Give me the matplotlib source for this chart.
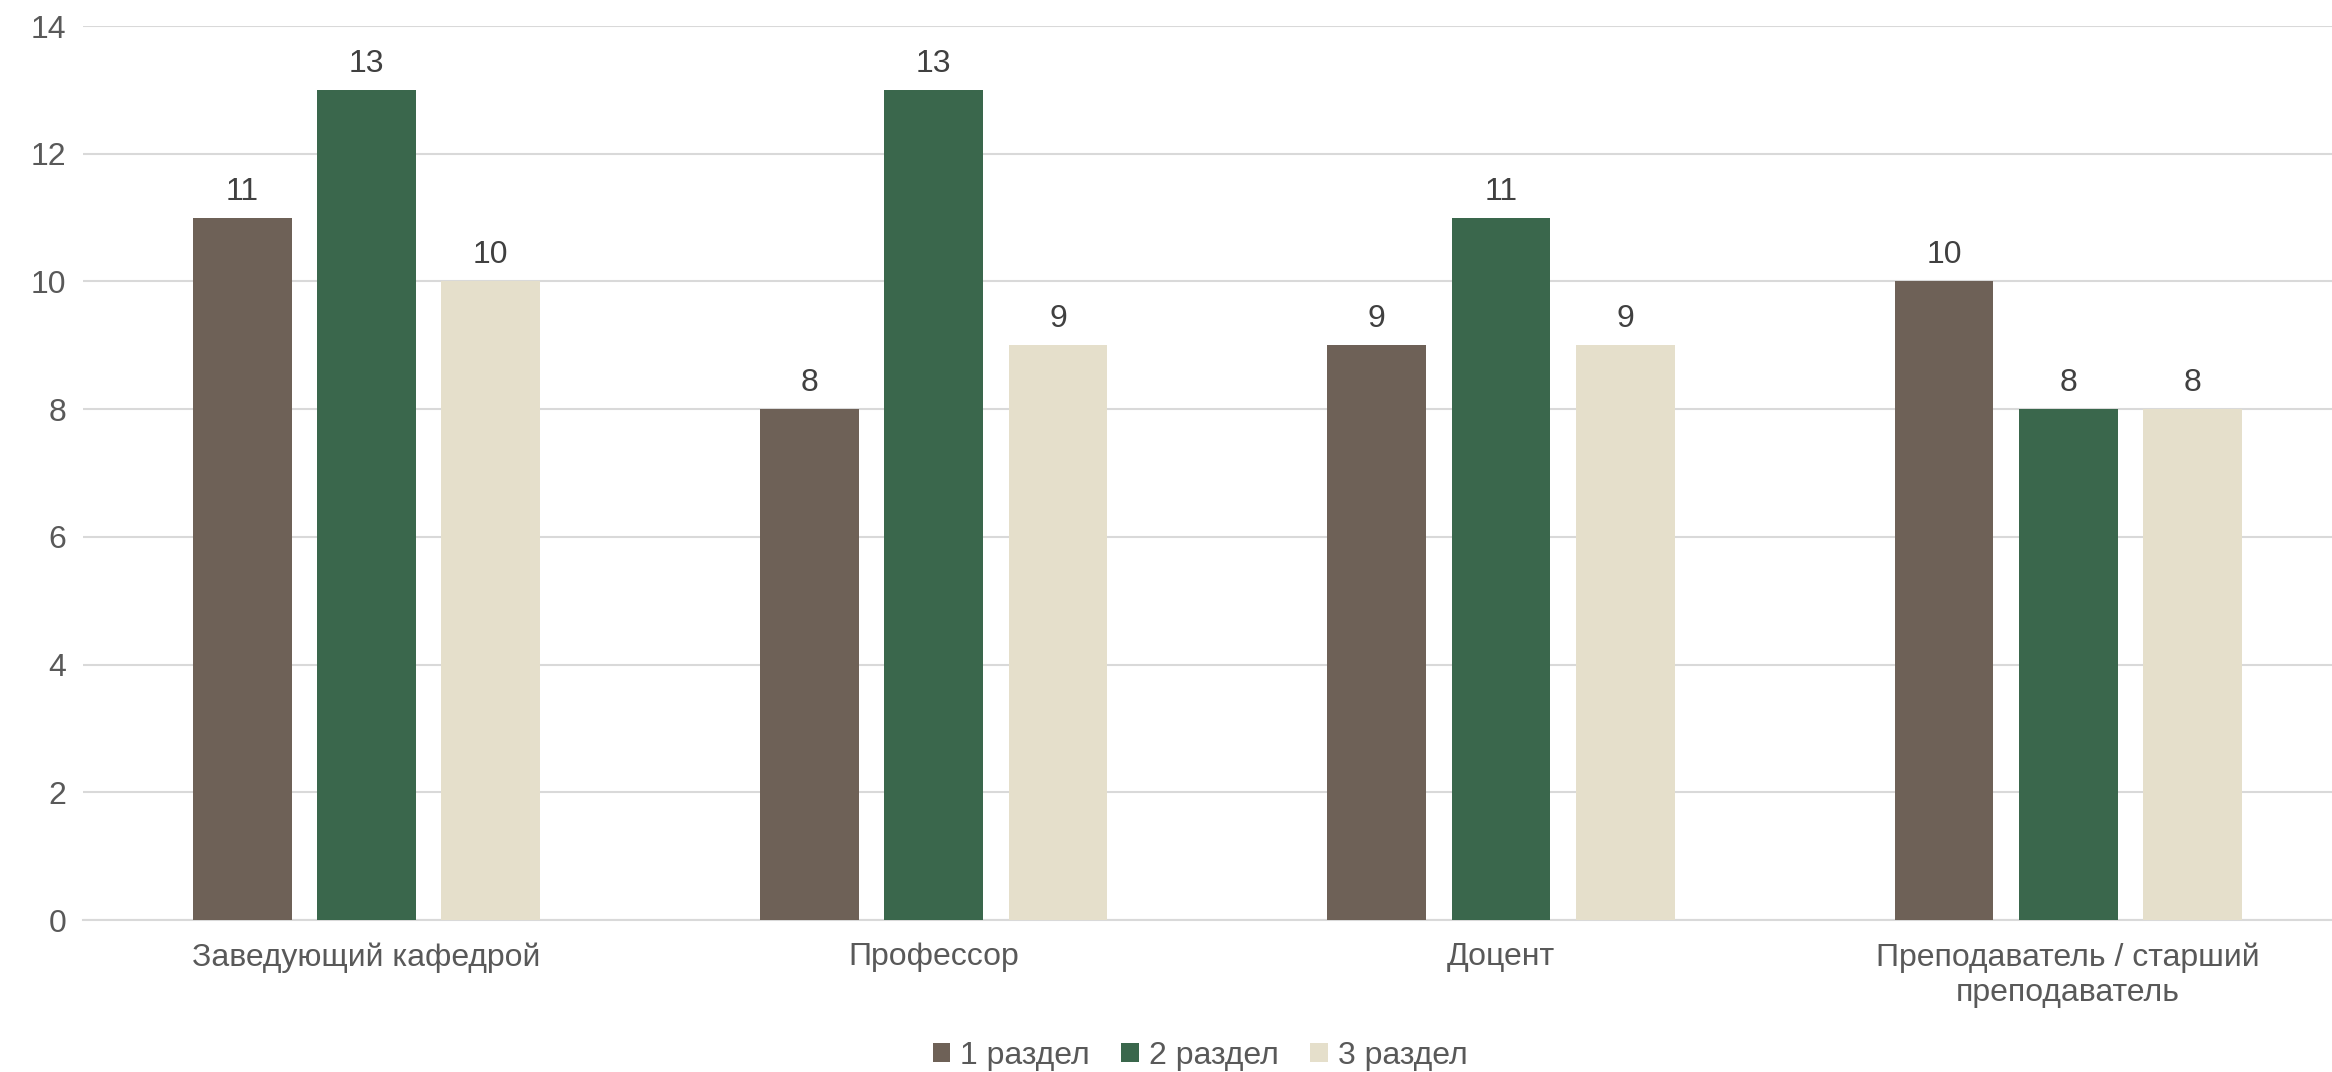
import matplotlib
matplotlib.use("Agg")
import matplotlib.pyplot as plt
import numpy as np

categories = ["Заведующий кафедрой", "Профессор", "Доцент", "Преподаватель / старший\nпреподаватель"]
series_names = ["1 раздел", "2 раздел", "3 раздел"]
s1 = [11, 8, 9, 10]
s2 = [13, 13, 11, 8]
s3 = [10, 9, 9, 8]
colors = ["#6E6157", "#3A674C", "#E5DFCB"]
yticks = [0, 2, 4, 6, 8, 10, 12, 14]

plt.rcParams['font.family'] = ['Liberation Sans', 'DejaVu Sans']

W, H = 2332, 1072
fig = plt.figure(figsize=(W / 100, H / 100), dpi=100)
left, right = 83, 2332
top, bottom = 26, 920
ax = fig.add_axes([left / W, 1 - bottom / H, (right - left) / W, (bottom - top) / H])

FS = 23
x = np.arange(len(categories))
width = 0.174
step = 0.219
for i, (vals, name, c) in enumerate(zip([s1, s2, s3], series_names, colors)):
    pos = x + (i - 1) * step
    bars = ax.bar(pos, vals, width=width, color=c, label=name, zorder=3)
    for b, v in zip(bars, vals):
        ax.annotate(str(v), (b.get_x() + b.get_width() / 2, v), xytext=(0, 13),
                    textcoords="offset points", ha="center", va="baseline",
                    fontsize=FS, color="#404040")

ax.set_xlim(-0.5, 3.465)
ax.set_ylim(0, 14)
ax.set_yticks(yticks)
ax.set_xticks(x)
ax.set_xticklabels(categories, fontsize=FS, color="#595959", linespacing=1.25)
ax.tick_params(axis='y', labelsize=FS, labelcolor="#595959", length=0, pad=12)
ax.tick_params(axis='x', length=0, pad=16)
ax.grid(axis='y', color="#D9D9D9", linewidth=1.5, zorder=0)
for s in ["top", "right", "left"]:
    ax.spines[s].set_visible(False)
ax.spines["bottom"].set_color("#D9D9D9")
ax.spines["bottom"].set_linewidth(1.5)

leg = fig.legend(loc="center", bbox_to_anchor=(1200 / W, 1 - 1056 / H), ncol=3,
                 frameon=False, fontsize=FS, handlelength=0.55, handleheight=0.55,
                 handletextpad=0.3, columnspacing=1.0)
for t in leg.get_texts():
    t.set_color("#595959")

fig.savefig("out.png", dpi=100)
